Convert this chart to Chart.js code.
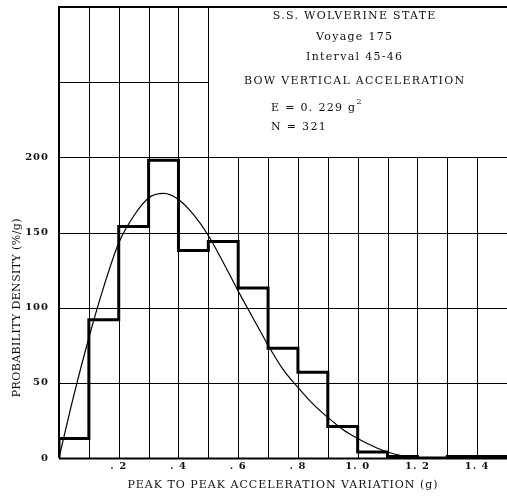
<!DOCTYPE html>
<html><head><meta charset="utf-8">
<script src="https://cdn.jsdelivr.net/npm/chart.js@4.4.1/dist/chart.umd.min.js"></script>
<style>html,body{margin:0;padding:0;background:#fff}#wrap{width:507px;height:498px}</style>
</head><body><div id="wrap"><canvas id="c" width="507" height="498"></canvas></div>
<script>
// Histogram bin edges and densities (%/g)
const binEdges = [0, 0.1, 0.2, 0.3, 0.4, 0.5, 0.6, 0.7, 0.8, 0.9, 1.0, 1.1, 1.2, 1.3, 1.4, 1.5];
const binDensity = [13, 92, 154, 198, 138, 144, 113, 73, 57, 21, 4, 1, 0, 1, 1];
// Fitted curve
const curveX = [0, 0.05, 0.1, 0.15, 0.2, 0.25, 0.3, 0.35, 0.4, 0.45, 0.5, 0.55, 0.6, 0.65, 0.7, 0.75, 0.8, 0.85, 0.9, 0.95, 1.0, 1.05, 1.1, 1.15, 1.2];
const curveY = [0, 42, 80, 114, 143, 161, 173, 176, 172, 162, 148, 130, 111, 93, 75, 59, 47, 36, 27, 19, 13, 8, 4, 1.5, 0];
const xTickLabels = {2: '. 2', 4: '. 4', 6: '. 6', 8: '. 8', 10: '1. 0', 12: '1. 2', 14: '1. 4'};
const yTickLabels = [0, 50, 100, 150, 200];
const boxLines = ['S.S. WOLVERINE STATE', 'Voyage 175', 'Interval 45-46', 'BOW VERTICAL ACCELERATION'];
const statLines = ['E = 0. 229 g', 'N = 321'];
const xTitle = 'PEAK TO PEAK ACCELERATION VARIATION (g)';
const yTitle = 'PROBABILITY DENSITY (%/g)';

const histData = [{x: 0, y: 0}];
binDensity.forEach((v, i) => histData.push({x: binEdges[i], y: v}));
histData.push({x: binEdges[binEdges.length - 1], y: binDensity[binDensity.length - 1]});
const curveData = curveX.map((x, i) => ({x, y: curveY[i]}));

const SERIF = '"DejaVu Serif", "Liberation Serif", serif';

const gridPlugin = {
  id: 'grid',
  beforeDraw(chart) {
    chart.ctx.letterSpacing = '1px';
  },
  beforeDatasetsDraw(chart) {
    const {ctx} = chart;
    const xs = chart.scales.x, ys = chart.scales.y;
    const px = v => xs.getPixelForValue(v), py = v => ys.getPixelForValue(v);
    ctx.save();
    ctx.strokeStyle = '#000';
    ctx.lineWidth = 1;
    ctx.beginPath();
    for (let i = 1; i <= 14; i++) {
      const v = i / 10;
      const top = v <= 0.5 ? 300 : 200;
      ctx.moveTo(Math.round(px(v)) + 0.5, py(0));
      ctx.lineTo(Math.round(px(v)) + 0.5, py(top));
    }
    [50, 100, 150, 200].forEach(v => {
      ctx.moveTo(px(0), Math.round(py(v)) + 0.5);
      ctx.lineTo(px(1.5), Math.round(py(v)) + 0.5);
    });
    ctx.moveTo(px(0), Math.round(py(250)) + 0.5);
    ctx.lineTo(px(0.5), Math.round(py(250)) + 0.5);
    ctx.stroke();
    ctx.lineWidth = 2;
    ctx.beginPath();
    ctx.moveTo(px(0), py(0));
    ctx.lineTo(px(0), py(300));
    ctx.lineTo(px(1.5), py(300));
    ctx.moveTo(px(0), py(0) + 0.5);
    ctx.lineTo(px(1.5), py(0) + 0.5);
    ctx.stroke();
    ctx.restore();
  },
  afterDraw(chart) {
    const {ctx} = chart;
    const xs = chart.scales.x, ys = chart.scales.y;
    const cx = xs.getPixelForValue(0.99);
    ctx.save();
    ctx.fillStyle = '#111';
    ctx.textBaseline = 'middle';
    ctx.textAlign = 'center';
    ctx.letterSpacing = '1.3px';
    ctx.font = '11px ' + SERIF;
    const yy = [16, 37, 57, 81];
    boxLines.forEach((t, i) => ctx.fillText(t, cx, yy[i]));
    ctx.textAlign = 'left';
    const lx = xs.getPixelForValue(0.71);
    ctx.fillText(statLines[0], lx, 108);
    const w = ctx.measureText(statLines[0]).width;
    ctx.font = '8px ' + SERIF;
    ctx.fillText('2', lx + w, 102);
    ctx.font = '11px ' + SERIF;
    ctx.fillText(statLines[1], lx, 127);
    // y axis title, centred on the 0-200 band
    ctx.letterSpacing = '0.4px';
    ctx.translate(17, ys.getPixelForValue(100));
    ctx.rotate(-Math.PI / 2);
    ctx.textAlign = 'center';
    ctx.fillText(yTitle, 0, 0);
    ctx.restore();
  }
};

new Chart(document.getElementById('c'), {
  type: 'scatter',
  data: {
    datasets: [
      {data: histData, showLine: true, stepped: 'before', borderColor: '#000', borderWidth: 3, pointRadius: 0, fill: false},
      {data: curveData, showLine: true, borderColor: '#000', borderWidth: 1.2, pointRadius: 0, tension: 0.4, cubicInterpolationMode: 'monotone', fill: false}
    ]
  },
  options: {
    responsive: false,
    animation: false,
    devicePixelRatio: 1,
    layout: {padding: {top: 7, right: 0, left: 0, bottom: 0}},
    plugins: {legend: {display: false}, tooltip: {enabled: false}},
    scales: {
      x: {
        type: 'linear', min: 0, max: 1.5,
        grid: {display: false, drawTicks: false}, border: {display: false},
        ticks: {
          stepSize: 0.1, autoSkip: false, maxRotation: 0, padding: 2, color: '#111',
          font: {family: SERIF, size: 10, weight: 'bold'},
          callback: v => xTickLabels[Math.round(v * 10)] || ''
        },
        title: {display: true, text: xTitle, color: '#111', font: {family: SERIF, size: 11}, padding: {top: 0, bottom: 6}},
        afterFit: s => { s.height = 40; s.paddingLeft = 0; s.paddingRight = 0; }
      },
      y: {
        type: 'linear', min: 0, max: 300,
        grid: {display: false, drawTicks: false}, border: {display: false},
        ticks: {
          stepSize: 50, padding: 10, color: '#111',
          font: {family: SERIF, size: 10, weight: 'bold'},
          callback: v => yTickLabels.includes(v) ? String(v) : ''
        },
        title: {display: false},
        afterFit: s => { s.width = 59; s.paddingTop = 0; s.paddingBottom = 0; }
      }
    }
  },
  plugins: [gridPlugin]
});
</script></body></html>
